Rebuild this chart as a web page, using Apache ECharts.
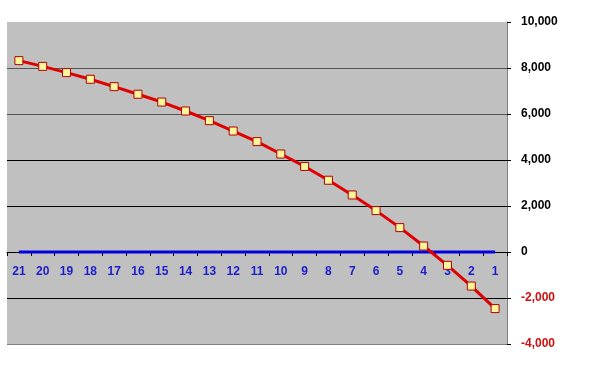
<!DOCTYPE html>
<html><head><meta charset="utf-8">
<script src="https://cdn.jsdelivr.net/npm/echarts@6/dist/echarts.min.js"></script>
<style>html,body{margin:0;padding:0;background:#fff}#c{width:600px;height:365px}</style>
</head><body><div id="c"></div>
<script>
const categories = ['21','20','19','18','17','16','15','14','13','12','11','10','9','8','7','6','5','4','3','2','1'];
const redValues = [8320, 8070, 7800, 7510, 7190, 6860, 6520, 6130, 5710, 5260, 4800, 4260, 3720, 3120, 2480, 1800, 1060, 260, -580, -1480, -2460];
const blueValues = [0,0,0,0,0,0,0,0,0,0,0,0,0,0,0,0,0,0,0,0,0];
const yTicks = { min: -4000, max: 10000, interval: 2000 };

const gridTop = 22, gridBottom = 21, chartH = 365;
const plotH = chartH - gridTop - gridBottom;
const zeroOffset = -Math.round((0 - yTicks.min) / (yTicks.max - yTicks.min) * plotH);

const chart = echarts.init(document.getElementById('c'), null, {renderer: 'canvas'});
chart.setOption({
  animation: false,
  grid: { left: 7, right: 93, top: gridTop, bottom: gridBottom, show: true, backgroundColor: '#C0C0C0', borderWidth: 0, outerBoundsMode: 'none', containLabel: false },
  xAxis: {
    type: 'category', data: categories, boundaryGap: true, position: 'bottom', offset: zeroOffset,
    axisLine: { onZero: false, lineStyle: { color: '#000', width: 1 } },
    axisTick: { show: true, length: 4, lineStyle: { color: '#000' } },
    axisLabel: { color: '#1C1CCC', fontSize: 12, fontWeight: 'bold', fontFamily: 'Liberation Sans, Arial', margin: 14 },
    splitLine: { show: false }
  },
  yAxis: {
    type: 'value', position: 'right', min: yTicks.min, max: yTicks.max, interval: yTicks.interval,
    axisLine: { show: true, lineStyle: { color: '#808080', width: 1 } },
    axisTick: { show: true, length: 4, lineStyle: { color: '#000' } },
    axisLabel: {
      margin: 14, fontSize: 12, fontWeight: 'bold', fontFamily: 'Liberation Sans, Arial',
      formatter: v => v.toLocaleString('en-US'),
      color: v => (Number(v) < 0 ? '#D01010' : '#000')
    },
    splitLine: { show: true, lineStyle: { color: ['#808080', '#000', '#000', '#000', '#000', '#555', '#555', 'rgba(0,0,0,0)'], width: 1 } }
  },
  series: [{
    type: 'line', data: blueValues, symbol: 'none', z: 2,
    lineStyle: { color: '#0000E0', width: 3 },
    markLine: { silent: true, symbol: 'none', label: { show: false },
      lineStyle: { color: '#808080', width: 1, type: 'solid' },
      data: [{ yAxis: yTicks.min }] }
  }, {
    type: 'line', data: redValues, symbol: 'rect', symbolSize: 8, z: 3,
    lineStyle: { color: '#E00000', width: 3 },
    itemStyle: { color: '#FFF59A', borderColor: '#B00000', borderWidth: 1 }
  }]
});
</script></body></html>
